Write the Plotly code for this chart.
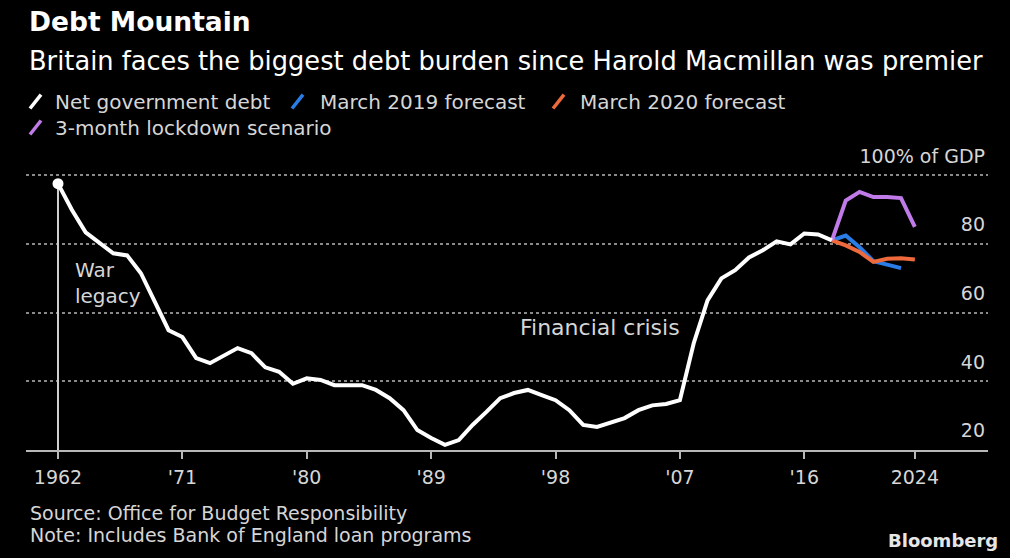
import plotly.graph_objects as go

# ---------------- data ----------------
hist_years = list(range(1962, 2019))
net_debt = [97.6, 90.0, 83.4, 80.4, 77.3, 76.7, 71.5, 63.2, 54.9, 52.9,
            46.8, 45.3, 47.4, 49.7, 48.2, 44.1, 42.8, 39.3, 40.9, 40.4,
            38.9, 38.9, 38.9, 37.5, 35.1, 31.6, 25.8, 23.5, 21.5, 22.9,
            27.3, 31.1, 35.1, 36.6, 37.5, 36.0, 34.5, 31.6, 27.3, 26.7,
            28.1, 29.3, 31.6, 33.0, 33.4, 34.5, 51.1, 63.6, 70.0, 72.4,
            76.1, 78.2, 80.8, 79.9, 83.1, 82.8, 81.1]

mar2019_years = list(range(2018, 2024))
mar2019_fc = [81.1, 82.5, 79.1, 75.0, 74.0, 73.0]

mar2020_years = list(range(2018, 2025))
mar2020_fc = [81.1, 79.6, 77.7, 74.8, 75.7, 75.9, 75.5]

lock_years = list(range(2018, 2025))
lockdown = [81.1, 92.7, 95.2, 93.7, 93.7, 93.4, 85.0]

x_tickvals = [1962, 1971, 1980, 1989, 1998, 2007, 2016, 2024]
x_ticktext = ["1962", "'71", "'80", "'89", "'98", "'07", "'16", "2024"]
y_tickvals = [20, 40, 60, 80, 100]
y_ticktext = ["20", "40", "60", "80", "100% of GDP"]

series_names = ["Net government debt", "March 2019 forecast",
                "March 2020 forecast", "3-month lockdown scenario"]
colors = ["#ffffff", "#2a7de6", "#ee6a3c", "#c07be8"]

# ---------------- layout geometry (pixels) ----------------
W, H = 1010, 558
PX_PER_UNIT = 3.4375
Y_TOP = 101
L, R, B = 26, 988, 450
T = 175 - (Y_TOP - 100) * PX_PER_UNIT
FONT = "DejaVu Sans"
TXT = "#d6d6d6"


def px(x):
    return (x - L) / (R - L)


def py(y):
    return (B - y) / (B - T)


fig = go.Figure()

# vertical reference line at the start
fig.add_trace(go.Scatter(x=[hist_years[0], hist_years[0]], y=[20, net_debt[0]],
                         mode="lines", line=dict(color="#cfcfcf", width=2),
                         hoverinfo="skip", showlegend=False))

fig.add_trace(go.Scatter(x=mar2019_years, y=mar2019_fc, mode="lines",
                         name=series_names[1],
                         line=dict(color=colors[1], width=4), showlegend=False))
fig.add_trace(go.Scatter(x=mar2020_years, y=mar2020_fc, mode="lines",
                         name=series_names[2],
                         line=dict(color=colors[2], width=4), showlegend=False))
fig.add_trace(go.Scatter(x=lock_years, y=lockdown, mode="lines",
                         name=series_names[3],
                         line=dict(color=colors[3], width=4), showlegend=False))
fig.add_trace(go.Scatter(x=hist_years, y=net_debt, mode="lines",
                         name=series_names[0],
                         line=dict(color=colors[0], width=4), showlegend=False))
fig.add_trace(go.Scatter(x=[hist_years[0]], y=[net_debt[0]], mode="markers",
                         marker=dict(color="#ffffff", size=11),
                         hoverinfo="skip", showlegend=False))

x0 = 1962 - (58 - L) / 13.82
x1 = 1962 + (R - 58) / 13.82

fig.update_layout(
    width=W, height=H,
    margin=dict(l=L, r=W - R, t=T, b=H - B, pad=0),
    paper_bgcolor="#000000", plot_bgcolor="#000000",
    font=dict(family=FONT, color=TXT, size=19),
    xaxis=dict(range=[x0, x1], tickvals=x_tickvals, ticktext=x_ticktext,
               showgrid=False, zeroline=False, showline=True,
               linecolor="#b8b8b8", linewidth=2, ticks="outside",
               ticklen=7, tickwidth=2, tickcolor="#b8b8b8",
               tickfont=dict(size=19, color=TXT), ticklabelstandoff=2),
    yaxis=dict(range=[20, Y_TOP], side="right", tickvals=y_tickvals,
               ticktext=y_ticktext, showgrid=True, gridcolor="#8a8a8a",
               griddash="dot", gridwidth=1.5, zeroline=False, showline=False,
               ticks="", ticklabelposition="inside top",
               ticklabeloverflow="allow", ticklabelshift=-6,
               tickfont=dict(size=19, color=TXT)),
)

ann = []
ann.append(dict(text="<b>Debt Mountain</b>", x=px(27), y=py(21), xref="paper",
                yref="paper", xanchor="left", yanchor="middle", showarrow=False,
                font=dict(size=26.5, color="#ffffff", family=FONT)))
ann.append(dict(text="Britain faces the biggest debt burden since Harold Macmillan was premier",
                x=px(27), y=py(60), xref="paper", yref="paper", xanchor="left",
                yanchor="middle", showarrow=False,
                font=dict(size=25.7, color="#ffffff", family=FONT)))

# custom legend: slanted strokes + labels
legend_items = [
    (0, 30, 53, 101),
    (1, 292, 318, 101),
    (2, 553, 578, 101),
    (3, 30, 53, 127),
]
shapes = []
for idx, ix, tx, ry in legend_items:
    shapes.append(dict(type="line", xref="paper", yref="paper",
                       x0=px(ix), y0=py(ry + 7), x1=px(ix + 11), y1=py(ry - 7),
                       line=dict(color=colors[idx], width=3.5)))
    ann.append(dict(text=series_names[idx], x=px(tx), y=py(ry), xref="paper",
                    yref="paper", xanchor="left", yanchor="middle",
                    showarrow=False, font=dict(size=20, color=TXT, family=FONT)))

# chart annotations
ann.append(dict(text="War<br>legacy", x=1963.1, y=76.5, xref="x", yref="y",
                xanchor="left", yanchor="top", align="left", showarrow=False,
                font=dict(size=20, color=TXT, family=FONT)))
ann.append(dict(text="Financial crisis", x=1995.3, y=55.8, xref="x", yref="y",
                xanchor="left", yanchor="middle", showarrow=False,
                font=dict(size=22, color=TXT, family=FONT)))

# footer
ann.append(dict(text="Source: Office for Budget Responsibility", x=px(28), y=py(513),
                xref="paper", yref="paper", xanchor="left", yanchor="middle",
                showarrow=False, font=dict(size=19, color=TXT, family=FONT)))
ann.append(dict(text="Note: Includes Bank of England loan programs", x=px(28), y=py(535),
                xref="paper", yref="paper", xanchor="left", yanchor="middle",
                showarrow=False, font=dict(size=19, color=TXT, family=FONT)))
ann.append(dict(text="<b>Bloomberg</b>", x=px(1000), y=py(541), xref="paper",
                yref="paper", xanchor="right", yanchor="middle", showarrow=False,
                font=dict(size=18, color="#e6e6e6", family=FONT)))

fig.update_layout(annotations=ann, shapes=shapes)

fig.write_html("out.html")
